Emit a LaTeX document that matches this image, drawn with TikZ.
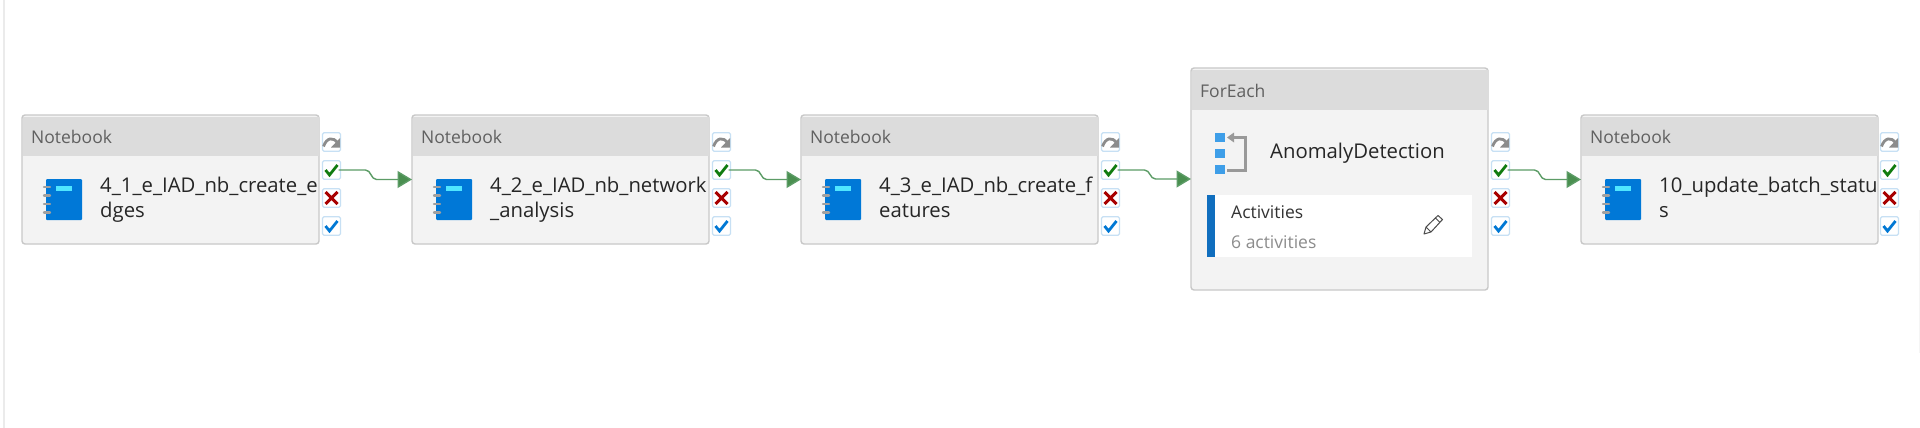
\documentclass[tikz,border=0pt]{standalone}
\usepackage{fontspec}
\setmainfont{Open Sans}
\usetikzlibrary{arrows.meta, calc}

\definecolor{cardfill}{HTML}{F3F3F3}
\definecolor{cardedge}{HTML}{C8C8C8}
\definecolor{cardhead}{HTML}{DCDCDC}
\definecolor{headtext}{HTML}{606060}
\definecolor{boxedge}{HTML}{C7E0F4}
\definecolor{bookblue}{HTML}{0078D7}
\definecolor{booktab}{HTML}{50E6FF}
\definecolor{ringgrey}{HTML}{A0A0A0}
\definecolor{flowgreen}{HTML}{5C9C66}
\definecolor{tipgreen}{HTML}{4A8F50}
\definecolor{okgreen}{HTML}{107C10}
\definecolor{failred}{HTML}{A80000}
\definecolor{doneblue}{HTML}{0078D4}
\definecolor{loopblue}{HTML}{3E9EE8}
\definecolor{barblue}{HTML}{106EBE}

\tikzset{
    card/.style={draw=cardedge, fill=cardfill, line width=1.4pt, rounded corners=3pt,
        minimum width=297pt, inner sep=0pt, outer sep=0pt},
    headlabel/.style={anchor=base west, inner sep=0pt, text=headtext, font=\fontsize{17.5}{20}\selectfont},
    tasklabel/.style={anchor=base west, inner sep=0pt, text=black!85, font=\fontsize{20.3}{25}\selectfont, align=left},
    statusbox/.style={draw=boxedge, fill=white, line width=1.2pt, rounded corners=1.5pt,
        minimum width=18pt, minimum height=18.5pt, inner sep=0pt, outer sep=0pt},
    flow/.style={draw=flowgreen, line width=1.4pt, -{Triangle[length=14.5pt, width=17pt, fill=tipgreen]}},
}

\begin{document}
\begin{tikzpicture}[x=1pt, y=-1pt]
    \useasboundingbox (0,0) rectangle (1920,428);
    \fill[white] (0,0) rectangle (1920,428);

    % ---- Pane edges ----
    \fill[black!8] (3,0) rectangle (5,428);
    \fill[black!4] (1919,210) rectangle (1920,353);

    % ---- Notebook cards ----
    \foreach \idx/\cx/\title in {1/22/{4\_1\_e\_IAD\_nb\_create\_e\\dges},
            2/412/{4\_2\_e\_IAD\_nb\_network\\\_analysis},
            3/801/{4\_3\_e\_IAD\_nb\_create\_f\\eatures},
            5/1581/{10\_update\_batch\_statu\\s}} {
        \node[card, minimum height=129pt, anchor=north west] (card\idx) at (\cx,115) {};
        \fill[cardhead] (\cx+1,117) rectangle (\cx+296.5,156);
        \node[headlabel] (head\idx) at (\cx+9,143) {Notebook};
        \node[tasklabel] (task\idx) at (\cx+78,217) {\title};

        % notebook icon
        \fill[bookblue, rounded corners=1pt] (\cx+24,179) rectangle (\cx+60,220);
        \fill[booktab] (\cx+34,186) rectangle (\cx+50,191);
        \foreach \ry in {187,195.5,204,212.5}
            \draw[ringgrey, line width=2.4pt, line cap=round] (\cx+22,\ry) -- (\cx+28,\ry);
    }

    % ---- ForEach card ----
    \node[card, minimum height=222pt, anchor=north west] (card4) at (1191,68) {};
    \fill[cardhead] (1192,70) rectangle (1488.5,110);
    \node[headlabel] (head4) at (1200,97) {ForEach};
    \node[tasklabel] (task4) at (1270,158) {AnomalyDetection};

    % loop icon
    \fill[loopblue] (1215,133) rectangle (1225,142);
    \fill[loopblue] (1215,149) rectangle (1225,158);
    \fill[loopblue] (1215,165) rectangle (1225,174);
    \draw[black!40, line width=3pt] (1232,137.5) -- (1245,137.5) -- (1245,170) -- (1227,170);
    \fill[black!40] (1227,137.5) -- (1234,132.5) -- (1234,142.5) -- cycle;

    % activities panel
    \fill[white] (1207,195) rectangle (1472,257);
    \fill[barblue] (1207,195) rectangle (1215,257);
    \node[headlabel, text=black!80] (activities) at (1231,218) {Activities};
    \node[headlabel, text=black!45] (activitycount) at (1231,248) {6 activities};

    % pencil
    \draw[black!70, line width=1pt, line join=round]
        (1424,234) -- (1426,227) -- (1438,215.5) -- (1442.5,219.5) -- (1431,232) -- cycle
        (1426,227) -- (1431,232) (1435.5,218) -- (1440,222.5);

    % ---- Status boxes ----
    \foreach \idx/\bx in {1/331.5, 2/721.5, 3/1110.5, 4/1500.5, 5/1889.5} {
        \node[statusbox] (skip\idx) at (\bx,142) {};
        \node[statusbox] (pass\idx) at (\bx,170) {};
        \node[statusbox] (fail\idx) at (\bx,198) {};
        \node[statusbox] (done\idx) at (\bx,226) {};

        % skipped
        \draw[black!45, line width=2.8pt] (\bx-8,146.5) .. controls (\bx-5,137.5) and (\bx+2,136.5) .. (\bx+6,143);
        \fill[black!45] (\bx+8.5,138) -- (\bx+8.5,147.5) -- (\bx-0.5,147.5) -- cycle;
        % succeeded
        \draw[okgreen, line width=2.8pt] (\bx-6,170) -- (\bx-2,175) -- (\bx+6,165);
        % failed
        \draw[failred, line width=3pt] (\bx-6,192) -- (\bx+6,204) (\bx+6,192) -- (\bx-6,204);
        % completed
        \draw[doneblue, line width=2.8pt] (\bx-6,226) -- (\bx-2,231) -- (\bx+6,221);
    }

    % ---- Connectors ----
    \foreach \from/\to/\drop in {1/2/9.5, 2/3/9.5, 3/4/9, 4/5/9.5} {
        \draw[flow] (pass\from.center) ++(7,0) -- ++(27,0)
            to[out=0, in=180] ++(11,\drop)
            -- (card\to.west);
    }
\end{tikzpicture}
\end{document}
